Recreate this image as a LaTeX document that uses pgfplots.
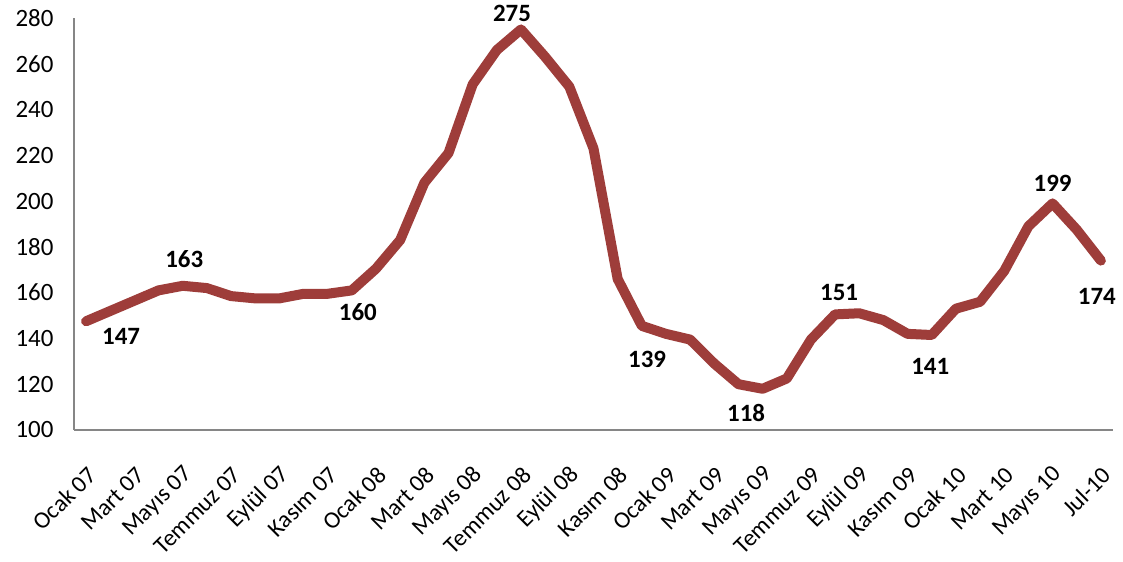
\documentclass[border=0pt]{standalone}
\usepackage{fontspec}
\setmainfont{Carlito}
\usepackage{pgfplots}
\pgfplotsset{compat=1.18}
\definecolor{linered}{RGB}{158,61,58}
\definecolor{axgray}{RGB}{134,134,134}
\begin{document}
\begin{tikzpicture}[x=1bp,y=1bp]
\path[use as bounding box] (0,0) rectangle (1123,562);
\begin{axis}[
  at={(74bp,132bp)}, anchor=south west,
  width=1039bp, height=412bp, scale only axis,
  xmin=-0.5, xmax=42.5, ymin=100, ymax=280,
  ytick={100,120,...,280},
  xtick={0,2,...,42},
  xticklabels={Ocak 07,Mart 07,Mayıs 07,Temmuz 07,Eylül 07,Kasım 07,Ocak 08,Mart 08,Mayıs 08,Temmuz 08,Eylül 08,Kasım 08,Ocak 09,Mart 09,Mayıs 09,Temmuz 09,Eylül 09,Kasım 09,Ocak 10,Mart 10,Mayıs 10,Jul-10},
  axis x line*=bottom, axis y line*=left,
  axis line style={draw=axgray, line width=1.2bp, -},
  major tick length=0pt,
  /pgf/number format/assume math mode=true,
  yticklabel style={font=\fontsize{25}{29}\selectfont, xshift=-17bp},
  xticklabel style={font=\fontsize{24}{28}\selectfont, xshift=6bp, yshift=-41bp, rotate=45, anchor=east, inner sep=0pt},
  clip=false,
]
\addplot[color=linered, line width=10bp, line join=round, line cap=round, mark=none] coordinates {
(0,147.5) (1,152) (2,156.5) (3,161) (4,163) (5,162) (6,158.5) (7,157.5) (8,157.5) (9,159.5)
(10,159.5) (11,161) (12,170.5) (13,183) (14,208) (15,221) (16,251) (17,266) (18,275) (19,263)
(20,250) (21,223) (22,166) (23,145.5) (24,142) (25,139.5) (26,129) (27,120) (28,118) (29,122.5)
(30,139.5) (31,150.5) (32,151) (33,148) (34,142) (35,141.5) (36,153) (37,156) (38,169.5) (39,189)
(40,199) (41,187.5) (42,174)
};
\pgfplotsset{lbl/.style={draw=none, mark=none, nodes near coords, point meta=explicit symbolic,
  nodes near coords style={anchor=center, font=\fontsize{25}{29}\selectfont\bfseries, inner sep=0pt}}}
\addplot[lbl, nodes near coords style={xshift=35bp, yshift=-15.5bp}] coordinates {(0,147.5)[147]};
\addplot[lbl, nodes near coords style={xshift=1.5bp, yshift=27bp}] coordinates {(4,163)[163]};
\addplot[lbl, nodes near coords style={xshift=6bp, yshift=-22bp}] coordinates {(11,161)[160]};
\addplot[lbl, nodes near coords style={xshift=-9bp, yshift=16bp}] coordinates {(18,275)[275]};
\addplot[lbl, nodes near coords style={xshift=-43bp, yshift=-20bp}] coordinates {(25,139.5)[139]};
\addplot[lbl, nodes near coords style={xshift=-16.5bp, yshift=-24bp}] coordinates {(28,118)[118]};
\addplot[lbl, nodes near coords style={xshift=4bp, yshift=22bp}] coordinates {(31,150.5)[151]};
\addplot[lbl, nodes near coords style={xshift=-1.5bp, yshift=-31.5bp}] coordinates {(35,141.5)[141]};
\addplot[lbl, nodes near coords style={xshift=0bp, yshift=20bp}] coordinates {(40,199)[199]};
\addplot[lbl, nodes near coords style={xshift=-4bp, yshift=-36bp}] coordinates {(42,174)[174]};
\end{axis}
\end{tikzpicture}
\end{document}
